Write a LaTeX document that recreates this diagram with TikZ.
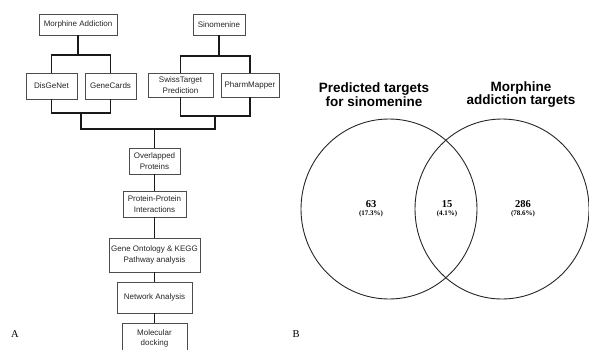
\documentclass[tikz,border=0pt]{standalone}
\usepackage{fontspec}
\setmainfont{Liberation Serif}
\newfontfamily\arialf{Liberation Sans}
\begin{document}
\begin{tikzpicture}[x=1pt,y=-1pt,
  flowbox/.style={draw=black!70, line width=0.8pt, fill=white, inner sep=0pt, align=center,
    font=\arialf\fontsize{8}{10.5}\selectfont, text=black!85},
  conn/.style={line width=1.4pt, black!90},
  venn/.style={line width=0.9pt, black!85},
  vtitle/.style={font=\arialf\bfseries\fontsize{13.5}{11}\selectfont, align=center, inner sep=0pt},
  vnum/.style={font=\bfseries\fontsize{10.5}{10}\selectfont, inner sep=0pt},
  vpct/.style={font=\bfseries\fontsize{7}{8}\selectfont, inner sep=0pt},
  panel/.style={font=\fontsize{10.5}{12}\selectfont, inner sep=0pt}]
\useasboundingbox (0,0) rectangle (589,349);
\begin{scope}
\clip (0,0) rectangle (589,349);
% flowchart boxes
\node[flowbox, minimum width=78pt, minimum height=21pt] (ma) at (78,24.5) {Morphine Addiction};
\node[flowbox, minimum width=52pt, minimum height=21pt] (sino) at (219,24.5) {Sinomenine};
\node[flowbox, minimum width=51pt, minimum height=26pt] (dis) at (51.5,86) {DisGeNet};
\node[flowbox, minimum width=51pt, minimum height=26pt] (gene) at (110.5,86) {GeneCards};
\node[flowbox, minimum width=65pt, minimum height=24pt] (swiss) at (180.5,85) {SwissTarget\\Prediction};
\node[flowbox, minimum width=58pt, minimum height=24pt] (pharm) at (250,85) {PharmMapper};
\node[flowbox, minimum width=51pt, minimum height=26pt] (over) at (154.5,161) {Overlapped\\Proteins};
\node[flowbox, minimum width=63pt, minimum height=26pt] (ppi) at (154.5,204) {Protein-Protein\\Interactions};
\node[flowbox, minimum width=91pt, minimum height=34pt] (go) at (154.5,255) {Gene Ontology \& KEGG\\Pathway analysis};
\node[flowbox, minimum width=75pt, minimum height=31pt] (net) at (154.5,297.5) {Network Analysis};
\node[flowbox, minimum width=65pt, minimum height=30pt, anchor=north] (mol) at (154.5,323) {Molecular\\docking};
% junctions
\coordinate (j1) at (78,55);
\coordinate (j2) at (219,56);
\coordinate (j3) at (81,113);
\coordinate (j4) at (215,116);
\coordinate (j7) at (154.5,129);
\draw[conn] (ma.south) -- (j1);
\draw[conn] (dis.north) |- (j1) -| (gene.north);
\draw[conn] (sino.south) -- (j2);
\draw[conn] (swiss.north) |- (j2) -| (pharm.north);
\draw[conn] (dis.south) |- (j3) -| (gene.south);
\draw[conn] (swiss.south) |- (j4) -| (pharm.south);
\draw[conn] (j3) |- (j7) -| (j4);
\draw[conn] (j7) -- (over.north);
\draw[conn] (over.south) -- (ppi.north);
\draw[conn] (ppi.south) -- (go.north);
\draw[conn] (go.south) -- (net.north);
\draw[conn] (net.south) -- (mol.north);
% Venn
\draw[venn] (389,209) ellipse [x radius=88, y radius=90];
\draw[venn] (502,209) ellipse [x radius=87, y radius=90];
\node[vtitle] (t1) at (374,94.5) {Predicted targets\\for sinomenine};
\node[vtitle] (t2) at (521,94.5) {Morphine\\addiction targets};
\node[vnum] (n1) at (371,204) {63};
\node[vpct] (p1) at (371,213.5) {(17.3\%)};
\node[vnum] (n2) at (447,204) {15};
\node[vpct] (p2) at (447,213.5) {(4.1\%)};
\node[vnum] (n3) at (523,204) {286};
\node[vpct] (p3) at (523,213.5) {(78.6\%)};
% panel labels
\node[panel] (la) at (15,334) {A};
\node[panel] (lb) at (296,334) {B};
\end{scope}
\end{tikzpicture}
\end{document}
